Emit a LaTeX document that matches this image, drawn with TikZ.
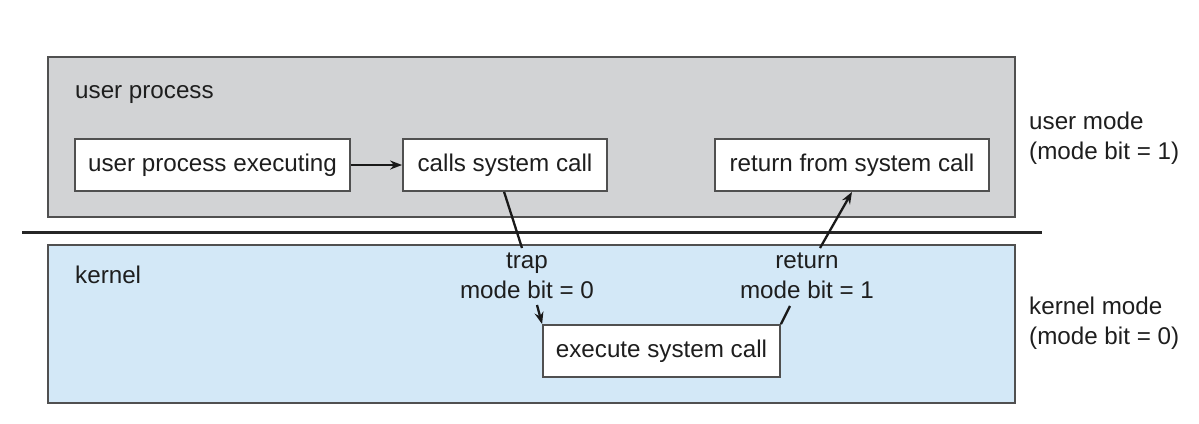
\documentclass[tikz,border=0pt]{standalone}
\usepackage{fontspec}
\setmainfont{Liberation Sans}
\usetikzlibrary{arrows.meta,calc}
\definecolor{usergray}{RGB}{210,211,213}
\definecolor{kernblue}{RGB}{211,232,247}
\definecolor{edgegray}{RGB}{80,80,80}
\definecolor{txt}{RGB}{30,30,30}
\tikzset{
  region/.style={draw=edgegray, line width=1.6pt},
  stepbox/.style={draw=edgegray, fill=white, line width=1.8pt, minimum height=52pt, inner sep=0pt, text=txt},
  lbl/.style={text=txt, inner sep=0pt},
  conn/.style={draw=black!90, line width=2.3pt},
  arr/.style={conn, -{Stealth[length=12pt,width=9pt]}},
}
\begin{document}
\begin{tikzpicture}[x=1pt,y=-1pt,font=\fontsize{24.2}{29.5}\selectfont]
\useasboundingbox (0,0) rectangle (1199,423);
% regions
\draw[region, fill=usergray] (48,57) rectangle (1015,217);
\draw[region, fill=kernblue] (48,245) rectangle (1015,403);
\coordinate (divL) at (22,232);
\coordinate (divR) at (1042,232);
\draw[line width=3pt, black!85] (divL) -- (divR);
% region labels
\node[lbl, anchor=west] (up) at (75,94) {user process};
\node[lbl, anchor=west] (kern) at (75,275) {kernel};
\node[lbl, anchor=west, align=left] (umode) at (1029,138) {user mode\\(mode bit = 1)};
\node[lbl, anchor=west, align=left] (kmode) at (1029,323) {kernel mode\\(mode bit = 0)};
% boxes
\node[stepbox, minimum width=275pt] (upe) at (212.5,165) {user process executing};
\node[stepbox, minimum width=204pt] (csc) at (505,165) {calls system call};
\node[stepbox, minimum width=274pt] (rsc) at (852,165) {return from system call};
\node[stepbox, minimum width=237pt] (esc) at (661.5,351) {execute system call};
% mid labels
\node[lbl, align=center] (trap) at (527,276) {trap\\mode bit = 0};
\node[lbl, align=center] (ret) at (807,276) {return\\mode bit = 1};
% connector points
\coordinate (t1) at ($(csc.south west)+(102,0)$);
\coordinate (t2) at (522,248);
\coordinate (t3) at (537,305);
\coordinate (r1) at (790,306);
\coordinate (r2) at (820,248);
% connectors
\draw[arr] (upe.east) -- (csc.west);
\draw[conn] (t1) -- (t2);
\draw[arr] (t3) -- (esc.north west);
\draw[conn] (esc.north east) -- (r1);
\draw[arr] (r2) -- (rsc.south);
\end{tikzpicture}
\end{document}
